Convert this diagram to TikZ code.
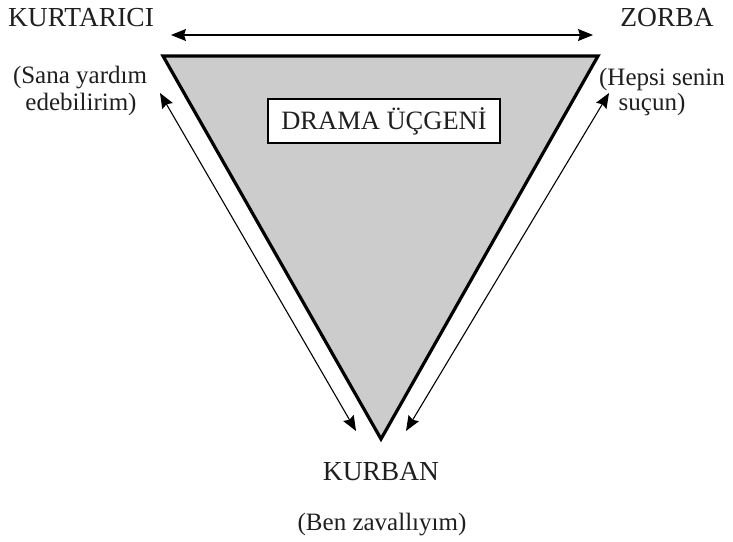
\documentclass[tikz,border=0pt]{standalone}
\usepackage{fontspec}
\setmainfont{Liberation Serif}
\usetikzlibrary{arrows.meta}
\begin{document}
\begin{tikzpicture}[x=1pt,y=-1pt,
  head/.style={font=\fontsize{27.5}{30}\selectfont, anchor=base, inner sep=0pt, text=black!88},
  sub/.style={font=\fontsize{25}{27}\selectfont, anchor=base, inner sep=0pt, text=black!88},
  thinarrow/.style={line width=1.1pt, {Stealth[length=15pt,width=12pt,inset=2pt]}-{Stealth[length=15pt,width=12pt,inset=2pt]}},
  tri/.style={draw=black, line width=3.2pt, fill=black!20, line join=miter}]
\useasboundingbox (0,0) rectangle (733,541);
% triangle
\coordinate (A) at (163,56);
\coordinate (B) at (598,56);
\coordinate (C) at (381,439);
\draw[tri] (A) -- (B) -- (C) -- cycle;
% labels
\node[head] (kurt) at (81,26) {KURTARICI};
\node[head] (zorba) at (667,26) {ZORBA};
\node[head] (kurban) at (381,480) {KURBAN};
\node[sub] (sana1) at (80,83) {(Sana yardım};
\node[sub] (sana2) at (81,110) {edebilirim)};
\node[sub] (hepsi1) at (662,85) {(Hepsi senin};
\node[sub] (hepsi2) at (652,110) {suçun)};
\node[sub] (ben) at (382,530) {(Ben zavallıyım)};
% box
\node[draw=black, line width=1.4pt, fill=white, minimum width=232pt, minimum height=44pt,
      font=\fontsize{26.5}{28}\selectfont, text=black!88, inner sep=0pt] (drama) at (384,121) {DRAMA ÜÇGENİ};
% arrow endpoints
\coordinate (t1) at (171,35);
\coordinate (t2) at (593,35);
\coordinate (l1) at (160,93);
\coordinate (l2) at (356,431);
\coordinate (r1) at (609,93);
\coordinate (r2) at (406,431);
\draw[thinarrow] (t1) -- (t2);
\draw[thinarrow] (l1) -- (l2);
\draw[thinarrow] (r1) -- (r2);
\end{tikzpicture}
\end{document}
